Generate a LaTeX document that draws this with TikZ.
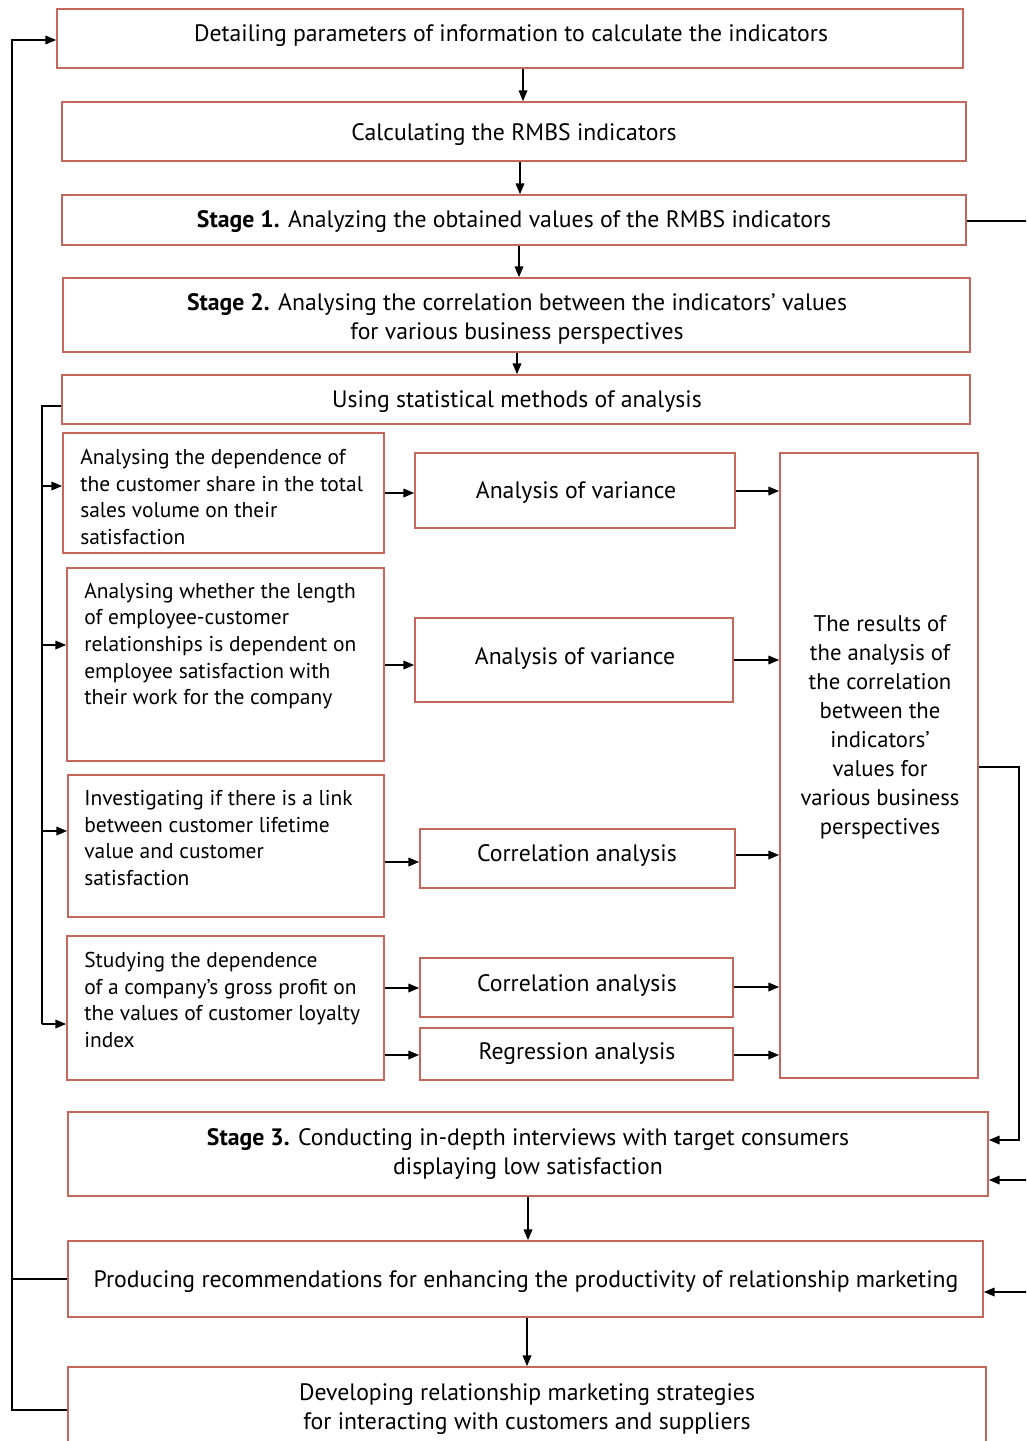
\documentclass[tikz,border=0pt]{standalone}
\usepackage{fontspec}
\setmainfont{PT Sans}
\usetikzlibrary{arrows.meta,fit}
\definecolor{bx}{RGB}{196,104,94}
\begin{document}
\begin{tikzpicture}[x=0.75pt,y=-0.75pt,
 box/.style={draw=bx,line width=1.3pt,inner sep=0pt},
 txt/.style={inner sep=0pt,font=\fontsize{17.8}{21.75}\selectfont,align=center},
 rtxt/.style={inner sep=0pt,font=\fontsize{17}{21.75}\selectfont,align=center},
 ltxt/.style={inner sep=0pt,font=\fontsize{16.1}{20}\selectfont,align=left,anchor=west},
 arr/.style={-{Triangle[length=8pt,width=6.5pt]},line width=0.9pt},
 ln/.style={line width=0.9pt}]
\useasboundingbox (0,0) rectangle (1026,1441);
\clip (0,0) rectangle (1026,1441);
% boxes
\node[box,fit={(57,9)(963,68)}] (b1) {};
\node[box,fit={(62,102)(966,161)}] (b2) {};
\node[box,fit={(62,195)(966,245)}] (s1) {};
\node[box,fit={(63,278)(970,352)}] (s2) {};
\node[box,fit={(62,375)(970,424)}] (u) {};
\node[box,fit={(63,433)(384,553)}] (l1) {};
\node[box,fit={(415,453)(735,528)}] (a1) {};
\node[box,fit={(780,453)(978,1078)}] (R) {};
\node[box,fit={(67,568)(384,761)}] (l2) {};
\node[box,fit={(415,618)(733,702)}] (a2) {};
\node[box,fit={(68,775)(384,917)}] (l3) {};
\node[box,fit={(420,829)(735,888)}] (c1) {};
\node[box,fit={(67,936)(384,1080)}] (l4) {};
\node[box,fit={(420,958)(733,1017)}] (c2) {};
\node[box,fit={(420,1028)(733,1080)}] (rg) {};
\node[box,fit={(68,1112)(988,1196)}] (s3) {};
\node[box,fit={(68,1241)(983,1317)}] (p) {};
\node[box,fit={(68,1367)(986,1470)}] (d) {};
% texts
\node[txt] (t1) at (511,36) {Detailing parameters of information to calculate the indicators};
\node[txt] (t2) at (514,135) {Calculating the RMBS indicators};
\node[txt] (t3) at (514,222) {\textbf{Stage 1.} Analyzing the obtained values of the RMBS indicators};
\node[txt] (t4) at (517,319) {\textbf{Stage 2.} Analysing the correlation between the indicators’ values\\for various business perspectives};
\node[txt] (t5) at (517,402) {Using statistical methods of analysis};
\node[ltxt] (tl1) at (80,497) {Analysing the dependence of\\the customer share in the total\\sales volume on their\\satisfaction};
\node[txt] (ta1) at (576,492) {Analysis of variance};
\node[rtxt] (tR) at (880,727) {The results of\\the analysis of\\the correlation\\between the\\indicators’\\values for\\various business\\perspectives};
\node[ltxt] (tl2) at (84,646) {Analysing whether the length\\of employee-customer\\relationships is dependent on\\employee satisfaction with\\their work for the company};
\node[txt] (ta2) at (575,658) {Analysis of variance};
\node[ltxt] (tl3) at (84,838) {Investigating if there is a link\\between customer lifetime\\value and customer\\satisfaction};
\node[txt] (tc1) at (577,855) {Correlation analysis};
\node[ltxt] (tl4) at (84,1000) {Studying the dependence\\of a company’s gross profit on\\the values of customer loyalty\\index};
\node[txt] (tc2) at (577,985) {Correlation analysis};
\node[txt] (trg) at (577,1054) {Regression analysis};
\node[txt] (ts3) at (528,1154) {\textbf{Stage 3.} Conducting in-depth interviews with target consumers\\displaying low satisfaction};
\node[txt] (tp) at (526,1282) {Producing recommendations for enhancing the productivity of relationship marketing};
\node[txt] (td) at (527,1409) {Developing relationship marketing strategies\\for interacting with customers and suppliers};
% coordinates for buses
\coordinate (bus) at (42,0);
\coordinate (ol) at (12,0);
\coordinate (re) at (1030,0);
\coordinate (rr) at (1019,0);
% vertical flow
\draw[arr] (b1.south -| 523,0) -- (b2.north -| 523,0);
\draw[arr] (b2.south -| 520,0) -- (s1.north -| 520,0);
\draw[arr] (s1.south -| 519,0) -- (s2.north -| 519,0);
\draw[arr] (s2.south -| 517,0) -- (u.north -| 517,0);
\draw[arr] (s3.south -| 528,0) -- (p.north -| 528,0);
\draw[arr] (p.south -| 527,0) -- (d.north -| 527,0);
% left bus
\draw[ln] (u.west |- 0,406) -- (bus |- 0,406) -- (bus |- 0,1024);
\draw[arr] (bus |- 0,486) -- (l1.west |- 0,486);
\draw[arr] (bus |- 0,645) -- (l2.west |- 0,645);
\draw[arr] (bus |- 0,831) -- (l3.west |- 0,831);
\draw[arr] (bus |- 0,1024) -- (l4.west |- 0,1024);
% left to methods
\draw[arr] (l1.east |- 0,493) -- (a1.west |- 0,493);
\draw[arr] (l2.east |- 0,665) -- (a2.west |- 0,665);
\draw[arr] (l3.east |- 0,862) -- (c1.west |- 0,862);
\draw[arr] (l4.east |- 0,988) -- (c2.west |- 0,988);
\draw[arr] (l4.east |- 0,1055) -- (rg.west |- 0,1055);
% methods to results
\draw[arr] (a1.east |- 0,491) -- (R.west |- 0,491);
\draw[arr] (a2.east |- 0,660) -- (R.west |- 0,660);
\draw[arr] (c1.east |- 0,855) -- (R.west |- 0,855);
\draw[arr] (c2.east |- 0,987) -- (R.west |- 0,987);
\draw[arr] (rg.east |- 0,1055) -- (R.west |- 0,1055);
% results to stage 3
\draw[arr] (R.east |- 0,767) -- (rr |- 0,767) -- (rr |- 0,1140) -- (s3.east |- 0,1140);
% right edge
\draw[ln] (s1.east |- 0,221) -- (re |- 0,221);
\draw[arr] (re |- 0,1180) -- (s3.east |- 0,1180);
\draw[arr] (re |- 0,1292) -- (p.east |- 0,1292);
% outer feedback
\draw[arr] (d.west |- 0,1410) -- (ol |- 0,1410) -- (ol |- 0,40) -- (b1.west |- 0,40);
\draw[ln] (p.west |- 0,1279) -- (ol |- 0,1279);
\end{tikzpicture}
\end{document}
